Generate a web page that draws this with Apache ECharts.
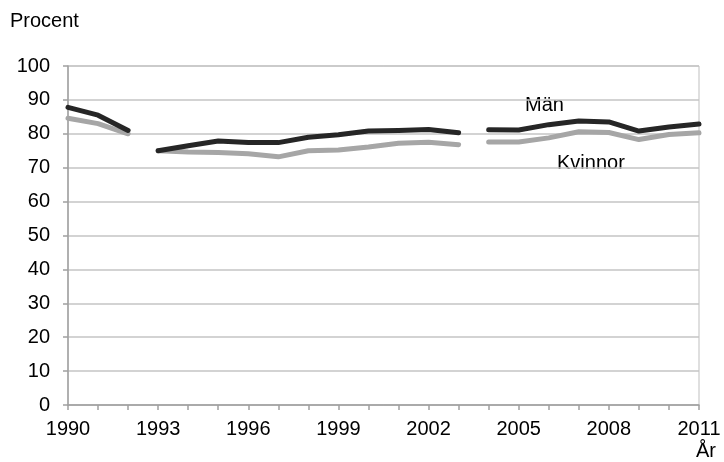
<!DOCTYPE html>
<html>
<head>
<meta charset="utf-8">
<script src="https://cdn.jsdelivr.net/npm/echarts@6/dist/echarts.min.js"></script>
<style>
html,body{margin:0;padding:0;background:#fff;}
#c{width:724px;height:462px;}
</style>
</head>
<body>
<div id="c"></div>
<script>
// Data
var years = ['1990','1991','1992','1993','1994','1995','1996','1997','1998','1999','2000','2001','2002','2003','2004','2005','2006','2007','2008','2009','2010','2011'];
var man     = [87.8, 85.5, 81.0, 75.0, 76.5, 77.9, 77.4, 77.4, 79.0, 79.7, 80.8, 81.0, 81.3, 80.3, 81.2, 81.1, 82.7, 83.8, 83.5, 80.8, 82.0, 82.9];
var kvinnor = [84.6, 83.0, 80.0, 75.0, 74.6, 74.5, 74.1, 73.2, 75.0, 75.2, 76.1, 77.2, 77.5, 76.8, 77.6, 77.6, 78.8, 80.6, 80.4, 78.3, 79.8, 80.3];
// Segments (no line drawn between them): start/end years
var segments = [['1990','1992'],['1993','2003'],['2004','2011']];
var yTicks = [0,10,20,30,40,50,60,70,80,90,100];

function segData(arr, seg){
  var s = years.indexOf(seg[0]), e = years.indexOf(seg[1]);
  return arr.map(function(v,i){ return (i>=s && i<=e) ? v : null; });
}
var series = [];
segments.forEach(function(seg){
  series.push({type:'line', name:'Kvinnor', data:segData(kvinnor,seg), showSymbol:false, connectNulls:false,
    lineStyle:{color:'#a6a6a6', width:5, cap:'round', join:'round'}, itemStyle:{color:'#a6a6a6'}, z:2, silent:true});
});
segments.forEach(function(seg){
  series.push({type:'line', name:'Män', data:segData(man,seg), showSymbol:false, connectNulls:false,
    lineStyle:{color:'#262626', width:5, cap:'round', join:'round'}, itemStyle:{color:'#262626'}, z:3, silent:true});
});

var chart = echarts.init(document.getElementById('c'), null, {renderer:'canvas'});
var font = 'Liberation Sans, Arial, sans-serif';
chart.setOption({
  animation:false,
  backgroundColor:'#fff',
  grid:{left:68, right:25, top:66, bottom:57, show:true, borderColor:'#bfbfbf', borderWidth:1, backgroundColor:'transparent'},
  xAxis:{
    type:'category', data:years, boundaryGap:false,
    axisLine:{lineStyle:{color:'#a0a0a0', width:1.5}},
    axisTick:{show:true, interval:0, length:5, lineStyle:{color:'#a0a0a0', width:1.5}},
    axisLabel:{interval:2, color:'#000', fontFamily:font, fontSize:20, margin:14},
    splitLine:{show:false}
  },
  yAxis:{
    type:'value', min:yTicks[0], max:yTicks[yTicks.length-1], interval:10,
    axisLine:{show:true, lineStyle:{color:'#a0a0a0', width:1.5}},
    axisTick:{show:true, length:5, lineStyle:{color:'#a0a0a0', width:1.5}},
    axisLabel:{color:'#000', fontFamily:font, fontSize:20, margin:18},
    splitLine:{show:true, lineStyle:{color:'#c4c4c4', width:1.5}}
  },
  series:series,
  graphic:[
    {type:'text', left:10, top:11, style:{text:'Procent', font:'20px '+font, fill:'#000'}},
    {type:'text', left:696, top:441, style:{text:'År', font:'20px '+font, fill:'#000'}},
    {type:'text', left:525, top:95, style:{text:'Män', font:'20px '+font, fill:'#000'}},
    {type:'text', left:557, top:153, style:{text:'Kvinnor', font:'20px '+font, fill:'#000'}}
  ]
});
</script>
</body>
</html>
